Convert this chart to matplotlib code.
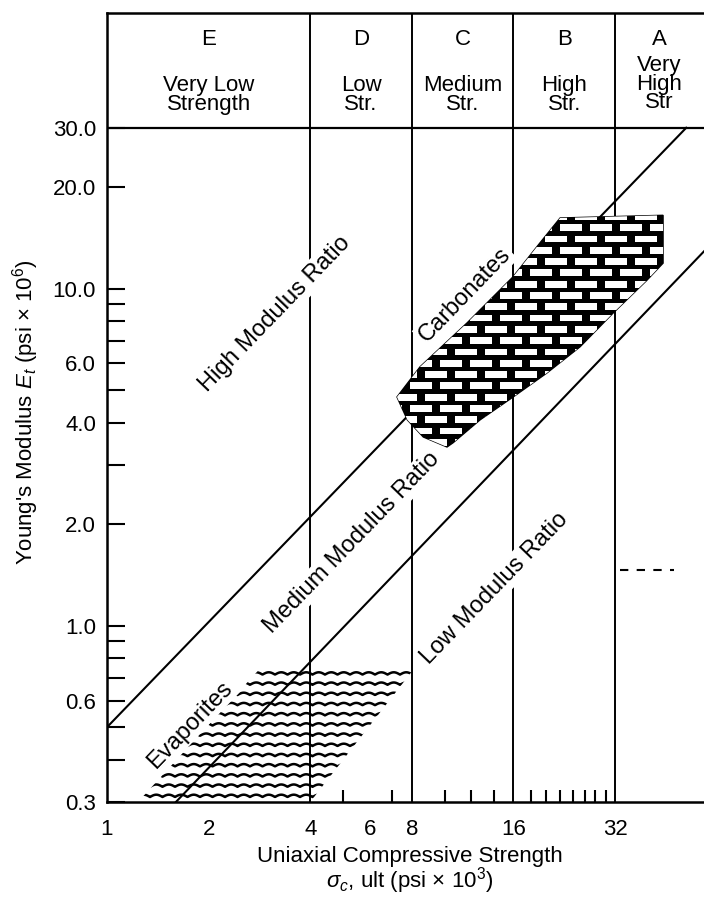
import numpy as np
import matplotlib
matplotlib.use("Agg")
import matplotlib.pyplot as plt
from matplotlib.patches import Polygon, Rectangle
from matplotlib.collections import PatchCollection, LineCollection
from matplotlib.ticker import FixedLocator, NullFormatter, FixedFormatter
from matplotlib.transforms import blended_transform_factory

plt.rcParams['font.family'] = ['Liberation Sans', 'DejaVu Sans']
plt.rcParams['mathtext.fontset'] = 'custom'
plt.rcParams['mathtext.rm'] = 'Liberation Sans'
plt.rcParams['mathtext.it'] = 'Liberation Sans:italic'
plt.rcParams['mathtext.sf'] = 'Liberation Sans'

# ---------------- data ----------------
strength_bounds = [4, 8, 16, 32]
class_letters = ['E', 'D', 'C', 'B', 'A']
class_names = ['Very Low\nStrength', 'Low\nStr.', 'Medium\nStr.',
               'High\nStr.', 'Very\nHigh\nStr']

x_tick_values = [1, 2, 4, 6, 8, 16, 32]
x_tick_labels = ['1', '2', '4', '6', '8', '16', '32']
x_minor_ticks = [5, 6, 7, 10, 12, 14, 18, 20, 22, 24, 26, 28, 30]
y_tick_values = [0.3, 0.6, 1, 2, 4, 6, 10, 20, 30]
y_tick_labels = ['0.3', '0.6', '1.0', '2.0', '4.0', '6.0', '10.0', '20.0', '30.0']
y_minor_ticks = [0.4, 0.5, 0.7, 0.8, 0.9, 3, 5, 7, 8, 9]
header_level = 30

high_ratio_x = [1, 52]
high_ratio_y = [0.5, 30]
low_ratio_x = [1.6, 58.7]
low_ratio_y = [0.3, 12.9]

carbonates_x = [7.23, 8.46, 11.66, 15.96, 19.19, 22.0, 44.4, 44.4, 39.8, 31.6,
                25.2, 20.1, 15.96, 12.74, 10.6, 10.17, 8.65, 7.76]
carbonates_y = [4.77, 5.86, 7.91, 10.84, 13.68, 16.2, 16.5, 11.9, 10.6, 8.47,
                6.72, 5.62, 4.77, 4.08, 3.49, 3.39, 3.63, 4.08]

evaporites_x = [1.235, 4.0, 8.23, 2.88]
evaporites_y = [0.3, 0.3, 0.758, 0.758]

artifact_x = [33, 48]
artifact_y = [1.46, 1.46]

XMIN, XMAX = 1, 58.7
YMIN, YMAX = 0.3, 65.7

# ---------------- figure ----------------
FW, FH = 704, 899
fig = plt.figure(figsize=(FW / 100, FH / 100), dpi=100)
L, R, T, B = 107, 704, 13, 802
ax = fig.add_axes([L / FW, 1 - B / FH, (R - L) / FW, (B - T) / FH])
AW, AH = R - L, B - T
ax.set_xscale('log')
ax.set_yscale('log')
ax.set_xlim(XMIN, XMAX)
ax.set_ylim(YMIN, YMAX)

for s in ['left', 'bottom', 'top']:
    ax.spines[s].set_linewidth(1.8)
ax.spines['right'].set_visible(False)

def fx(px):
    return (px - L) / AW

def fy(py):
    return (B - py) / AH

# header + class dividers
ax.axhline(header_level, color='black', lw=1.6, zorder=3)
for xb in strength_bounds:
    ax.axvline(xb, color='black', lw=1.4, zorder=3)

# ticks
ax.xaxis.set_major_locator(FixedLocator(x_tick_values))
ax.xaxis.set_major_formatter(FixedFormatter(x_tick_labels))
ax.xaxis.set_minor_locator(FixedLocator(x_minor_ticks))
ax.xaxis.set_minor_formatter(NullFormatter())
ax.yaxis.set_major_locator(FixedLocator(y_tick_values))
ax.yaxis.set_major_formatter(FixedFormatter(y_tick_labels))
ax.yaxis.set_minor_locator(FixedLocator(y_minor_ticks))
ax.yaxis.set_minor_formatter(NullFormatter())
ax.tick_params(axis='x', which='major', length=0, labelsize=16, pad=12)
ax.tick_params(axis='x', which='minor', direction='in', length=9, width=1.5)
ax.tick_params(axis='y', which='both', direction='in', length=13, width=1.5,
               labelsize=16, pad=8)

# modulus ratio lines
ax.plot(high_ratio_x, high_ratio_y, color='black', lw=1.5, zorder=4)
ax.plot(low_ratio_x, low_ratio_y, color='black', lw=1.5, zorder=4)

# ---- carbonates: brick pattern ----
carb = Polygon(np.column_stack([carbonates_x, carbonates_y]), closed=True,
               facecolor='black', edgecolor='black', lw=1.0, zorder=5)
ax.add_patch(carb)
bricks = []
row = 0
for py in np.arange(205, 462, 11.3):
    off = 0 if row % 2 == 0 else 15
    for px in np.arange(380 + off, 680, 30):
        bricks.append(Rectangle((fx(px), fy(py + 3.4)), 22 / AW, 6.8 / AH))
    row += 1
bc = PatchCollection(bricks, facecolor='white', edgecolor='none',
                     transform=ax.transAxes, zorder=6)
ax.add_collection(bc)
bc.set_clip_path(carb)

# ---- evaporites: wavy lines ----
evap = Polygon(np.column_stack([evaporites_x, evaporites_y]), closed=True,
               facecolor='none', edgecolor='none', zorder=1)
ax.add_patch(evap)
segs = []
xs = np.linspace(120, 430, 600)
for py in np.arange(796, 668, -10.2):
    ys = py - 2.3 * np.abs(np.sin(np.pi * xs / 12.5)) + 1.0
    segs.append(np.column_stack([fx(xs), fy(ys)]))
lc = LineCollection(segs, colors='black', linewidths=1.8,
                    transform=ax.transAxes, zorder=5)
ax.add_collection(lc)
lc.set_clip_path(evap)

# artifact dashes
ax.plot(artifact_x, artifact_y, color='black', lw=1.5, ls=(0, (4, 4)), zorder=3)

# ---- header text ----
bt = blended_transform_factory(ax.transData, ax.transAxes)
col_edges = [XMIN] + strength_bounds + [XMAX]
for i, (let, names) in enumerate(zip(class_letters, class_names)):
    xc = np.sqrt(col_edges[i] * col_edges[i + 1])
    ax.text(xc, fy(45), let, transform=bt, ha='center', va='baseline', fontsize=16)
    yc = 84 if names.count('\n') == 2 else 95
    ax.text(xc, fy(yc), names, transform=bt, ha='center', va='center',
            fontsize=16, linespacing=0.82)

# ---- diagonal labels ----
box = dict(facecolor='white', edgecolor='none', pad=1.5)
lab_kw = dict(transform=ax.transAxes, ha='center', va='center', rotation=46,
              rotation_mode='anchor', fontsize=17, zorder=7, bbox=box)
ax.text(fx(275), fy(314), 'High Modulus Ratio', **lab_kw)
ax.text(fx(352), fy(543), 'Medium Modulus Ratio', **lab_kw)
ax.text(fx(495), fy(588), 'Low Modulus Ratio', **lab_kw)
ax.text(fx(465), fy(295), 'Carbonates', **lab_kw)
ax.text(fx(190), fy(725), 'Evaporites', **lab_kw)

# ---- axis labels ----
fig.text(26 / FW, 1 - 412 / FH, r"Young's Modulus $E_t$ (psi $\times$ 10$^6$)",
         rotation=90, ha='center', va='center', fontsize=16)
fig.text(410 / FW, 1 - 871 / FH,
         'Uniaxial Compressive Strength\n' + r"$\sigma_c$, ult (psi $\times$ 10$^3$)",
         ha='center', va='center', multialignment='center', fontsize=16,
         linespacing=0.95)

fig.savefig('out.png', dpi=100)
